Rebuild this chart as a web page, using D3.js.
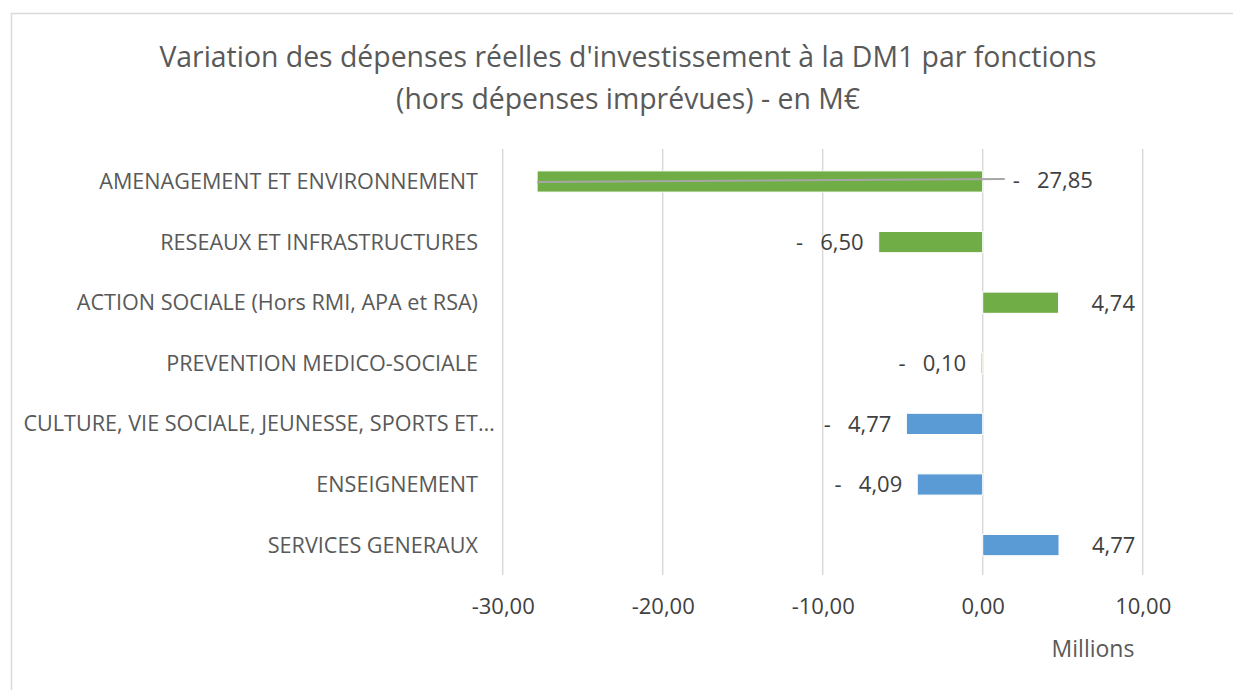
<!DOCTYPE html>
<html>
<head>
<meta charset="utf-8">
<script src="https://cdn.jsdelivr.net/npm/d3@7/dist/d3.min.js"></script>
<style>
    body { margin: 0; background: #fff; }
    text { font-family: "Open Sans", "Liberation Sans", sans-serif; }
</style>
</head>
<body>
<svg id="chart" width="1233" height="690"></svg>
<script>
// Data
var categories = [
    "AMENAGEMENT ET ENVIRONNEMENT",
    "RESEAUX ET INFRASTRUCTURES",
    "ACTION SOCIALE (Hors RMI, APA et RSA)",
    "PREVENTION MEDICO-SOCIALE",
    "CULTURE, VIE SOCIALE, JEUNESSE, SPORTS ET…",
    "ENSEIGNEMENT",
    "SERVICES GENERAUX"
];
var values = [-27.85, -6.50, 4.74, -0.10, -4.77, -4.09, 4.77];
var groups = ["a", "a", "a", "a", "b", "b", "b"];
var tickValues = [-30, -20, -10, 0, 10];
var titleLines = [
    "Variation des dépenses réelles d'investissement à la DM1 par fonctions",
    "(hors dépenses imprévues) - en M€"
];
var unitLabel = "Millions";

var colors = { a: "#70AD47", b: "#5B9BD5" };

var fr = d3.formatLocale({ decimal: ",", thousands: " ", grouping: [3], currency: ["", " €"], minus: "-" });
var fmt = fr.format(".2f");

var svg = d3.select("#chart");

// Chart frame
svg.append("rect")
    .attr("x", 11.5)
    .attr("y", 13.5)
    .attr("width", 1260)
    .attr("height", 720)
    .attr("fill", "#fff")
    .attr("stroke", "#d9d9d9")
    .attr("stroke-width", 1.5);

// Title
svg.append("g")
    .attr("class", "title")
    .selectAll("text")
    .data(titleLines)
    .enter()
    .append("text")
    .attr("x", 628)
    .attr("y", function(d, i) { return 67 + i * 42; })
    .attr("text-anchor", "middle")
    .style("font-size", "28.4px")
    .style("fill", "#595959")
    .text(function(d) { return d; });

// Scales
var x = d3.scaleLinear()
    .domain([-30, 10])
    .range([502.7, 1142.7]);

var y = d3.scaleBand()
    .domain(categories)
    .range([151.2, 575.4])
    .paddingInner(0.65)
    .paddingOuter(0.325);

// Gridlines
svg.append("g")
    .attr("class", "grid")
    .selectAll("line")
    .data(tickValues)
    .enter()
    .append("line")
    .attr("x1", function(d) { return x(d); })
    .attr("x2", function(d) { return x(d); })
    .attr("y1", 149)
    .attr("y2", 575)
    .attr("stroke", "#d9d9d9")
    .attr("stroke-width", 1.5);

// X axis labels
var xAxis = svg.append("g")
    .attr("transform", "translate(0,593)")
    .call(d3.axisBottom(x).tickValues(tickValues).tickFormat(fmt).tickSize(0).tickPadding(0));
xAxis.select(".domain").remove();
xAxis.selectAll("text")
    .attr("dy", null)
    .attr("y", 21)
    .style("font-family", "'Open Sans', sans-serif")
    .style("font-size", "22px")
    .style("fill", "#404040");

svg.append("text")
    .attr("x", 1093)
    .attr("y", 657)
    .attr("text-anchor", "middle")
    .style("font-size", "23px")
    .style("fill", "#595959")
    .text(unitLabel);

// Category labels
var catLabels = svg.append("g")
    .attr("class", "categories")
    .selectAll("text")
    .data(categories)
    .enter()
    .append("text")
    .attr("x", 478)
    .attr("y", function(d) { return y(d) + y.bandwidth() / 2; })
    .attr("dy", "0.35em")
    .attr("text-anchor", "end")
    .style("font-size", "21.6px")
    .style("fill", "#595959")
    .text(function(d) { return d; });

// truncated labels hang their ellipsis past the label edge
catLabels.each(function(d) {
    if (d.slice(-1) === "…") {
        var tmp = svg.append("text").style("font-size", "21.6px").text("…");
        var w = tmp.node().getComputedTextLength();
        tmp.remove();
        d3.select(this).attr("x", 478 + w);
    }
});

// Bars
var rows = categories.map(function(c, i) {
    return { cat: c, value: values[i], group: groups[i] };
});

svg.append("g")
    .attr("class", "bars")
    .selectAll("rect")
    .data(rows)
    .enter()
    .append("rect")
    .attr("x", function(d) { return x(Math.min(0, d.value)); })
    .attr("y", function(d) { return y(d.cat); })
    .attr("width", function(d) { return Math.abs(x(d.value) - x(0)); })
    .attr("height", y.bandwidth())
    .attr("fill", function(d) { return colors[d.group]; })
    .attr("stroke", "#fff")
    .attr("stroke-width", 1);

// Data labels
var labels = svg.append("g").attr("class", "data-labels");

rows.forEach(function(d) {
    var cy = y(d.cat) + y.bandwidth() / 2;
    var str = d.value < 0 ? "-   " + fmt(Math.abs(d.value)) : fmt(d.value);
    var t = labels.append("text")
        .attr("y", cy)
        .attr("dy", "0.36em")
        .style("font-size", "22px")
        .style("fill", "#404040")
        .style("white-space", "pre")
        .text(str);

    if (d.value >= 0) {
        t.attr("x", x(d.value) + 33).attr("text-anchor", "start");
        return;
    }

    var w = t.node().getComputedTextLength();
    var end = x(d.value) - 15;
    if (end - w < x.range()[0]) {
        // no room left of the bar: label moved past zero, with a leader line
        var lx = x(0) + 30;
        t.attr("x", lx).attr("text-anchor", "start").attr("y", cy - 1);
        labels.insert("line", "text")
            .attr("x1", x(d.value))
            .attr("y1", cy + 0.5)
            .attr("x2", lx - 8)
            .attr("y2", cy - 2.5)
            .attr("stroke", "#a6a6a6")
            .attr("stroke-width", 2);
    } else {
        t.attr("x", end).attr("text-anchor", "end");
    }
});
</script>
</body>
</html>
